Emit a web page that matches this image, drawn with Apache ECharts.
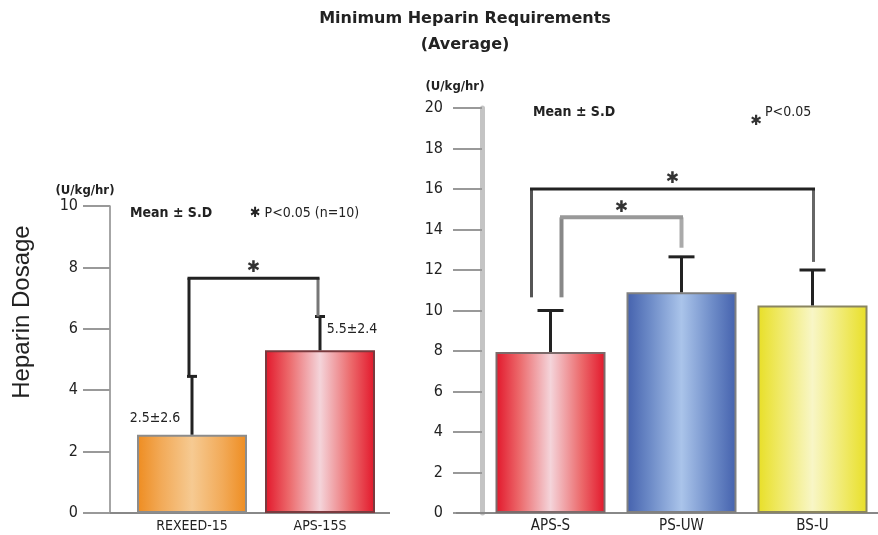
<!DOCTYPE html>
<html>
<head>
<meta charset="utf-8">
<script src="https://cdn.jsdelivr.net/npm/echarts@6/dist/echarts.min.js"></script>
<style>
html, body { margin: 0; padding: 0; background: #fff; }
#chart { width: 878px; height: 535px; }
</style>
</head>
<body>
<div id="chart"></div>
<script>
// ---- data ----
var leftCats = ['REXEED-15', 'APS-15S'];
var leftMeans = [2.55, 5.3];
var leftErrTops = [4.45, 6.4];
var leftLabels = ['2.5±2.6', '5.5±2.4'];

var rightCats = ['APS-S', 'PS-UW', 'BS-U'];
var rightMeans = [7.95, 10.9, 10.25];
var rightErrTops = [10.0, 12.65, 12.0];

// [from category, to category, bracket height, left leg end, right leg end]
var leftBrackets = [[0, 1, 7.65, 4.45, 6.4]];
var rightBrackets = [[0, 2, 16.0, 10.65, 12.4], [0, 1, 14.6, 10.65, 13.1]];

var leftYMax = 10, rightYMax = 20, yStep = 2;

// ---- styles ----
var FONT = "'Liberation Sans Narrow', 'DejaVu Sans Condensed', 'Liberation Sans', sans-serif";

function stripe(edge, mid, light) {
    return new echarts.graphic.LinearGradient(0, 0, 1, 0, [
        {offset: 0, color: edge},
        {offset: 0.22, color: mid},
        {offset: 0.5, color: light},
        {offset: 0.78, color: mid},
        {offset: 1, color: edge}
    ]);
}
var orange = stripe('#ee8c20', '#f2aa58', '#f6ca92');
var red = stripe('#e2162a', '#ec6a6c', '#f4d4da');
var blue = stripe('#4461ad', '#6e8cc8', '#aac4ea');
var yellow = stripe('#e8df26', '#f0ea6c', '#f8f6c6');

var leftBarStyle = [
    {color: orange, borderColor: '#8c8c8c'},
    {color: red, borderColor: '#7a3a3e'}
];
var rightBarStyle = [
    {color: red, borderColor: '#7c6a6a'},
    {color: blue, borderColor: '#808080'},
    {color: yellow, borderColor: '#8a8560'}
];
var leftLabelOffsets = [[-37, -4], [32, -9]];

var leftBracketStyle = [{dx1: -3, dx2: -2, top: '#222', leg1: '#222', leg2: '#777', width: 3}];
var rightBracketStyle = [
    {dx1: -19, dx2: 1, top: '#222', leg1: '#555', leg2: '#666', width: 3},
    {dx1: 11, dx2: 0, top: '#999', leg1: '#888', leg2: '#aaa', width: 4}
];

var myChart = echarts.init(document.getElementById('chart'));

function errorRender(capW) {
    return function (params, api) {
        var i = api.value(0);
        var p0 = api.coord([i, api.value(1)]);
        var p1 = api.coord([i, api.value(2)]);
        var st = {stroke: '#222', lineWidth: 3};
        return {
            type: 'group',
            children: [
                {type: 'line', shape: {x1: p0[0], y1: p0[1], x2: p1[0], y2: p1[1]}, style: st},
                {type: 'line', shape: {x1: p1[0] - capW / 2, y1: p1[1], x2: p1[0] + capW / 2, y2: p1[1]}, style: st}
            ]
        };
    };
}

function bracketRender(styles) {
    return function (params, api) {
        var s = styles[params.dataIndex];
        var a = api.coord([api.value(0), api.value(2)]);
        var b = api.coord([api.value(1), api.value(2)]);
        var ea = api.coord([api.value(0), api.value(3)]);
        var eb = api.coord([api.value(1), api.value(4)]);
        var x1 = a[0] + s.dx1, x2 = b[0] + s.dx2, y = a[1];
        return {
            type: 'group',
            children: [
                {type: 'line', shape: {x1: x1, y1: ea[1], x2: x1, y2: y}, style: {stroke: s.leg1, lineWidth: s.width}},
                {type: 'line', shape: {x1: x2, y1: eb[1], x2: x2, y2: y}, style: {stroke: s.leg2, lineWidth: s.width}},
                {type: 'line', shape: {x1: x1 - 1.5, y1: y, x2: x2 + 1.5, y2: y}, style: {stroke: s.top, lineWidth: s.width}},
                {type: 'text', style: {text: '✱', x: (x1 + x2) / 2, y: y - 2, align: 'center', verticalAlign: 'bottom',
                    font: 'bold 16px DejaVu Sans', fill: '#333'}}
            ]
        };
    };
}

function baselineRender(axisOffset, extra) {
    return function (params, api) {
        var p = api.coord([0, 0]);
        var cs = params.coordSys;
        return {
            type: 'line',
            shape: {x1: cs.x - axisOffset, y1: p[1], x2: cs.x + cs.width + extra, y2: p[1]},
            style: {stroke: '#888', lineWidth: 2}
        };
    };
}

var option = {
    animation: false,
    grid: [
        {left: 128, right: 494, top: 206, bottom: 22},
        {left: 485, right: -10, top: 108, bottom: 22}
    ],
    xAxis: [{
        type: 'category', data: leftCats, gridIndex: 0,
        axisLine: {show: false}, axisTick: {show: false},
        axisLabel: {margin: 6, color: '#222', fontSize: 14, fontFamily: FONT}
    }, {
        type: 'category', data: rightCats, gridIndex: 1,
        axisLine: {show: false}, axisTick: {show: false},
        axisLabel: {margin: 6, color: '#222', fontSize: 15, fontFamily: FONT}
    }],
    yAxis: [{
        type: 'value', gridIndex: 0, min: 0, max: leftYMax, interval: yStep, offset: 18,
        splitLine: {show: false},
        axisLine: {show: true, lineStyle: {color: '#888', width: 1.5}},
        axisTick: {show: true, length: 27, lineStyle: {color: '#999', width: 2}},
        axisLabel: {margin: 32, color: '#222', fontSize: 16, fontFamily: FONT}
    }, {
        type: 'value', gridIndex: 1, min: 0, max: rightYMax, interval: yStep, offset: 3,
        splitLine: {show: false},
        axisLine: {show: true, lineStyle: {color: '#c4c4c4', width: 5}},
        axisTick: {show: true, length: 29, lineStyle: {color: '#999', width: 2}},
        axisLabel: {margin: 39, color: '#222', fontSize: 16, fontFamily: FONT}
    }],
    series: [{
        type: 'custom', xAxisIndex: 0, yAxisIndex: 0, z: 1,
        renderItem: baselineRender(18, 6), data: [[0, 0]]
    }, {
        type: 'custom', xAxisIndex: 1, yAxisIndex: 1, z: 1,
        renderItem: baselineRender(29, 0), data: [[0, 0]]
    }, {
        type: 'bar', xAxisIndex: 0, yAxisIndex: 0, barWidth: 110, z: 2,
        data: leftMeans.map(function (v, i) {
            return {
                value: v,
                itemStyle: {color: leftBarStyle[i].color, borderColor: leftBarStyle[i].borderColor, borderWidth: 2},
                label: {offset: leftLabelOffsets[i]}
            };
        }),
        label: {
            show: true, position: 'top', color: '#222', fontSize: 14, fontFamily: FONT,
            formatter: function (p) { return leftLabels[p.dataIndex]; }
        }
    }, {
        type: 'bar', xAxisIndex: 1, yAxisIndex: 1, barWidth: 110, z: 2,
        data: rightMeans.map(function (v, i) {
            return {
                value: v,
                itemStyle: {color: rightBarStyle[i].color, borderColor: rightBarStyle[i].borderColor, borderWidth: 2}
            };
        })
    }, {
        type: 'custom', xAxisIndex: 0, yAxisIndex: 0, z: 3,
        renderItem: errorRender(10),
        data: leftMeans.map(function (v, i) { return [i, v, leftErrTops[i]]; })
    }, {
        type: 'custom', xAxisIndex: 1, yAxisIndex: 1, z: 3,
        renderItem: errorRender(26),
        data: rightMeans.map(function (v, i) { return [i, v, rightErrTops[i]]; })
    }, {
        type: 'custom', xAxisIndex: 0, yAxisIndex: 0, z: 3,
        renderItem: bracketRender(leftBracketStyle), data: leftBrackets
    }, {
        type: 'custom', xAxisIndex: 1, yAxisIndex: 1, z: 3,
        renderItem: bracketRender(rightBracketStyle), data: rightBrackets
    }],
    graphic: [
        {type: 'text', x: 465, y: 19, style: {text: 'Minimum Heparin Requirements', align: 'center', verticalAlign: 'middle',
            font: 'bold 16px DejaVu Sans', fill: '#222'}},
        {type: 'text', x: 465, y: 45, style: {text: '(Average)', align: 'center', verticalAlign: 'middle',
            font: 'bold 16px DejaVu Sans', fill: '#222'}},
        {type: 'text', x: 22, y: 312, rotation: Math.PI / 2, style: {text: 'Heparin Dosage', align: 'center', verticalAlign: 'middle',
            font: '24px Liberation Sans', fill: '#222'}},
        {type: 'text', x: 85, y: 191, style: {text: '(U/kg/hr)', align: 'center', verticalAlign: 'middle',
            font: 'bold 13px ' + FONT, fill: '#222'}},
        {type: 'text', x: 455, y: 87, style: {text: '(U/kg/hr)', align: 'center', verticalAlign: 'middle',
            font: 'bold 13px ' + FONT, fill: '#222'}},
        {type: 'text', x: 130, y: 213, style: {text: 'Mean ± S.D', align: 'left', verticalAlign: 'middle',
            font: 'bold 14px ' + FONT, fill: '#222'}},
        {type: 'text', x: 250, y: 213, style: {text: '✱ P<0.05 (n=10)', align: 'left', verticalAlign: 'middle',
            font: '14px ' + FONT, fill: '#222'}},
        {type: 'text', x: 533, y: 112, style: {text: 'Mean ± S.D', align: 'left', verticalAlign: 'middle',
            font: 'bold 14px ' + FONT, fill: '#222'}},
        {type: 'text', x: 756, y: 121, style: {text: '✱', align: 'center', verticalAlign: 'middle',
            font: 'bold 14px DejaVu Sans', fill: '#333'}},
        {type: 'text', x: 765, y: 112, style: {text: 'P<0.05', align: 'left', verticalAlign: 'middle',
            font: '14px ' + FONT, fill: '#222'}}
    ]
};

myChart.setOption(option);
</script>
</body>
</html>
